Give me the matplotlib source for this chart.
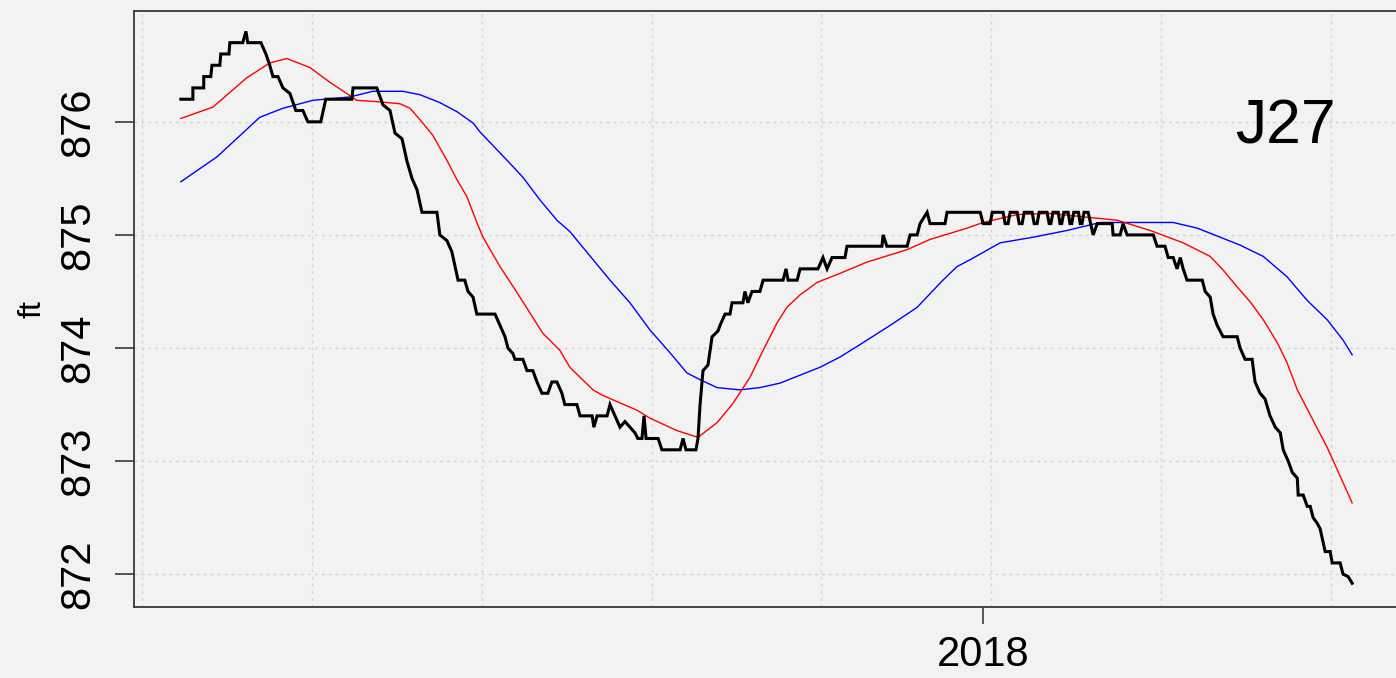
import numpy as np
import matplotlib
matplotlib.use("Agg")
import matplotlib.pyplot as plt
import matplotlib.dates as mdates
import datetime as dt

# ---- data (days since series start, level in ft) ----
start_date = dt.datetime(2017, 4, 2, 12)

black = [(0, 876.2), (4.1, 876.2), (4.1, 876.3), (7.8, 876.3), (7.8, 876.4), (10.2, 876.4), (10.6, 876.5),
         (13.3, 876.5), (13.6, 876.6), (16.4, 876.6), (16.7, 876.7), (21.1, 876.7), (22.2, 876.8), (22.8, 876.7),
         (27.3, 876.7), (29.0, 876.6), (30.3, 876.5), (31.4, 876.4), (33.1, 876.4), (34.8, 876.3), (37.2, 876.25),
         (39.2, 876.1), (41.6, 876.1), (43.3, 876.0), (47.7, 876.0), (49.4, 876.2), (58.3, 876.2), (58.7, 876.3),
         (66.8, 876.3), (68.9, 876.15), (71.3, 876.1), (73.0, 875.9), (75.4, 875.85), (77.1, 875.65), (78.8, 875.5),
         (80.5, 875.4), (82.2, 875.2), (87.3, 875.2), (88.3, 875.0), (90.7, 874.95), (92.4, 874.85), (94.5, 874.6),
         (96.8, 874.6), (97.9, 874.5), (99.6, 874.45), (100.9, 874.3), (107.1, 874.3), (108.8, 874.2), (110.5, 874.1),
         (111.5, 874.0), (113.2, 873.95), (113.9, 873.9), (116.6, 873.9), (118.0, 873.8), (120.0, 873.8), (121.4, 873.7),
         (123.1, 873.6), (125.1, 873.6), (126.5, 873.7), (128.2, 873.7), (129.9, 873.6), (130.9, 873.5), (135.0, 873.5),
         (136.1, 873.4), (140.2, 873.4), (140.8, 873.3), (141.9, 873.4), (145.3, 873.4), (146.3, 873.5), (148.0, 873.4),
         (149.7, 873.3), (151.4, 873.35), (153.1, 873.3), (154.8, 873.25), (155.8, 873.2), (157.2, 873.2), (157.9, 873.4),
         (158.6, 873.2), (162.7, 873.2), (164.0, 873.1), (170.2, 873.1), (171.2, 873.2), (172.2, 873.1), (175.6, 873.1),
         (176.3, 873.2), (177.0, 873.5), (178.0, 873.8), (179.7, 873.85), (181.1, 874.1), (183.1, 874.15), (183.8, 874.2),
         (185.5, 874.3), (187.2, 874.3), (187.9, 874.4), (191.6, 874.4), (192.3, 874.5), (193.3, 874.4), (194.7, 874.5),
         (197.4, 874.5), (198.5, 874.6), (205.3, 874.6), (206.3, 874.7), (207.0, 874.6), (210.1, 874.6), (211.1, 874.7),
         (217.2, 874.7), (218.9, 874.8), (220.3, 874.7), (222.0, 874.8), (226.4, 874.8), (227.1, 874.9), (239.0, 874.9),
         (239.4, 875.0), (240.7, 874.9), (247.6, 874.9), (248.6, 875.0), (251.0, 875.0), (252.0, 875.1), (254.4, 875.2),
         (255.4, 875.1), (260.5, 875.1), (261.2, 875.2), (272.5, 875.2), (273.5, 875.1), (275.9, 875.1), (276.6, 875.2),
         (280.3, 875.2), (281.0, 875.1), (282.0, 875.1), (282.7, 875.2), (285.1, 875.2), (285.8, 875.1), (286.8, 875.1),
         (287.5, 875.2), (290.2, 875.2), (290.9, 875.1), (291.9, 875.1), (292.6, 875.2), (295.3, 875.2), (296.0, 875.1),
         (296.6, 875.1), (297.3, 875.2), (299.1, 875.2), (299.7, 875.1), (300.3, 875.1), (301.0, 875.2), (302.5, 875.2),
         (303.1, 875.1), (303.7, 875.1), (304.4, 875.2), (306.0, 875.2), (306.6, 875.1), (307.2, 875.1), (307.9, 875.2),
         (309.3, 875.2), (311.0, 875.0), (312.4, 875.1), (317.5, 875.1), (317.8, 875.0), (320.2, 875.0), (321.2, 875.1),
         (322.6, 875.0), (331.5, 875.0), (332.8, 874.9), (335.5, 874.9), (336.6, 874.8), (338.3, 874.8), (339.6, 874.7),
         (340.7, 874.8), (341.7, 874.7), (343.0, 874.6), (348.2, 874.6), (349.2, 874.5), (350.9, 874.45), (351.9, 874.3),
         (353.3, 874.2), (355.3, 874.1), (360.1, 874.1), (361.1, 874.0), (362.8, 873.9), (365.2, 873.9), (366.2, 873.7),
         (367.9, 873.6), (369.6, 873.55), (371.3, 873.4), (373.1, 873.3), (374.8, 873.25), (375.8, 873.1), (377.5, 873.0),
         (378.9, 872.9), (380.6, 872.85), (380.9, 872.7), (382.6, 872.7), (384.0, 872.6), (385.0, 872.6), (386.0, 872.5),
         (387.4, 872.45), (388.4, 872.4), (390.1, 872.2), (391.8, 872.2), (392.5, 872.1), (395.2, 872.1), (396.2, 872.0),
         (397.9, 871.98), (399.3, 871.92)]

red = [(0, 876.03), (10.9, 876.13), (22.5, 876.39), (30.3, 876.52), (36.1, 876.56), (44.0, 876.48), (50.8, 876.35),
       (60.0, 876.19), (66.2, 876.18), (74.7, 876.16), (78.1, 876.12), (81.5, 876.02), (85.9, 875.88), (90.7, 875.66),
       (94.1, 875.49), (97.5, 875.34), (100.9, 875.11), (103.0, 874.98), (108.8, 874.72), (114.6, 874.49),
       (119.0, 874.31), (123.4, 874.13), (129.2, 873.98), (132.6, 873.83), (140.5, 873.63), (143.9, 873.58),
       (155.5, 873.45), (159.9, 873.38), (169.1, 873.27), (176.3, 873.21), (182.8, 873.34), (188.2, 873.51),
       (194.0, 873.74), (198.5, 873.98), (203.2, 874.22), (206.6, 874.36), (211.1, 874.47), (216.9, 874.58),
       (224.7, 874.66), (233.9, 874.76), (247.6, 874.87), (255.4, 874.96), (268.0, 875.06), (273.5, 875.11),
       (285.1, 875.18), (296.3, 875.19), (307.6, 875.16), (319.2, 875.13), (330.4, 875.04), (341.7, 874.93),
       (350.9, 874.81), (355.3, 874.69), (360.1, 874.54), (364.5, 874.41), (369.0, 874.25), (373.7, 874.05),
       (377.1, 873.87), (380.6, 873.63), (386.0, 873.36), (390.8, 873.12), (396.2, 872.81), (399.3, 872.63)]

blue = [(0, 875.47), (12.3, 875.69), (26.9, 876.04), (34.8, 876.12), (45.0, 876.19), (57.6, 876.22), (65.5, 876.27),
        (75.7, 876.27), (81.5, 876.24), (88.3, 876.17), (94.1, 876.09), (99.6, 875.99), (102.0, 875.91),
        (111.2, 875.66), (116.6, 875.51), (122.4, 875.31), (128.2, 875.13), (132.6, 875.03), (146.3, 874.60),
        (153.1, 874.40), (159.9, 874.16), (166.7, 873.96), (172.5, 873.78), (177.0, 873.72), (182.8, 873.65),
        (190.6, 873.63), (197.4, 873.65), (204.3, 873.69), (211.1, 873.76), (217.9, 873.83), (224.7, 873.92),
        (231.5, 874.03), (241.8, 874.20), (251.0, 874.36), (259.8, 874.60), (264.6, 874.72), (269.0, 874.78),
        (279.3, 874.93), (290.6, 874.98), (302.2, 875.04), (313.4, 875.11), (327.0, 875.11), (338.3, 875.11),
        (346.5, 875.06), (354.3, 874.98), (361.1, 874.91), (369.0, 874.81), (377.1, 874.63), (384.0, 874.42),
        (390.8, 874.25), (396.2, 874.07), (399.3, 873.94)]

y_ticks = [872, 873, 874, 875, 876]
x_tick_dates = [dt.datetime(2018, 1, 1)]
x_tick_labels = ["2018"]
ylabel = "ft"
well_name = "J27"


def to_dates(series):
    return [start_date + dt.timedelta(days=d) for d, _ in series], [v for _, v in series]


# ---- figure ----
W, H, DPI = 1396, 678, 100
bg = "#F2F2F2"
plt.rcParams["font.family"] = ["Liberation Sans", "DejaVu Sans"]
fig = plt.figure(figsize=(W / DPI, H / DPI), dpi=DPI, facecolor=bg)
ax = fig.add_axes([134 / W, (H - 607) / H, 1265 / W, 596 / H], facecolor=bg)

bx, by = to_dates(black)
rx, ry = to_dates(red)
ux, uy = to_dates(blue)

ax.plot(ux, uy, color="#0000FF", lw=1.0, zorder=3)
ax.plot(rx, ry, color="#FF0000", lw=1.0, zorder=3)
ax.plot(bx, by, color="black", lw=2.2, zorder=4, solid_joinstyle="miter")

# limits like R (4% padding)
xmin, xmax = mdates.date2num(bx[0]), mdates.date2num(bx[-1])
pad = 0.04 * (xmax - xmin)
ax.set_xlim(xmin - pad, xmax + pad)
ax.set_ylim(871.71, 876.98)

# grid: R's grid() at pretty numeric (POSIXct seconds) positions
lo_s = (xmin - pad) * 86400.0
hi_s = (xmax + pad) * 86400.0
step = 5e6
gpos = np.arange(np.ceil(lo_s / step) * step, hi_s, step) / 86400.0
grid_kw = dict(color="#D3D3D3", lw=1.0, linestyle=(0, (2, 3)), zorder=1)
for g in gpos:
    ax.axvline(g, **grid_kw)
for yv in y_ticks:
    ax.axhline(yv, **grid_kw)

spine_c = "#3A3A3A"
for s in ax.spines.values():
    s.set_color(spine_c)
    s.set_linewidth(1.3)

ax.set_yticks(y_ticks)
ax.set_yticklabels([str(v) for v in y_ticks], rotation=90, va="center")
ax.set_xticks(mdates.date2num(x_tick_dates))
ax.set_xticklabels(x_tick_labels)
ax.tick_params(axis="y", length=13.5, width=1.2, color=spine_c, labelsize=30, pad=12)
ax.tick_params(axis="x", length=12, width=1.2, color=spine_c, labelsize=30, pad=8)

ax.set_ylabel(ylabel, fontsize=23)
ax.yaxis.set_label_coords(-0.068, 0.5)

ax.text(0.91, 0.778, well_name, transform=ax.transAxes, fontsize=45, ha="center", va="baseline")

fig.savefig("out.png", dpi=DPI, facecolor=bg)
